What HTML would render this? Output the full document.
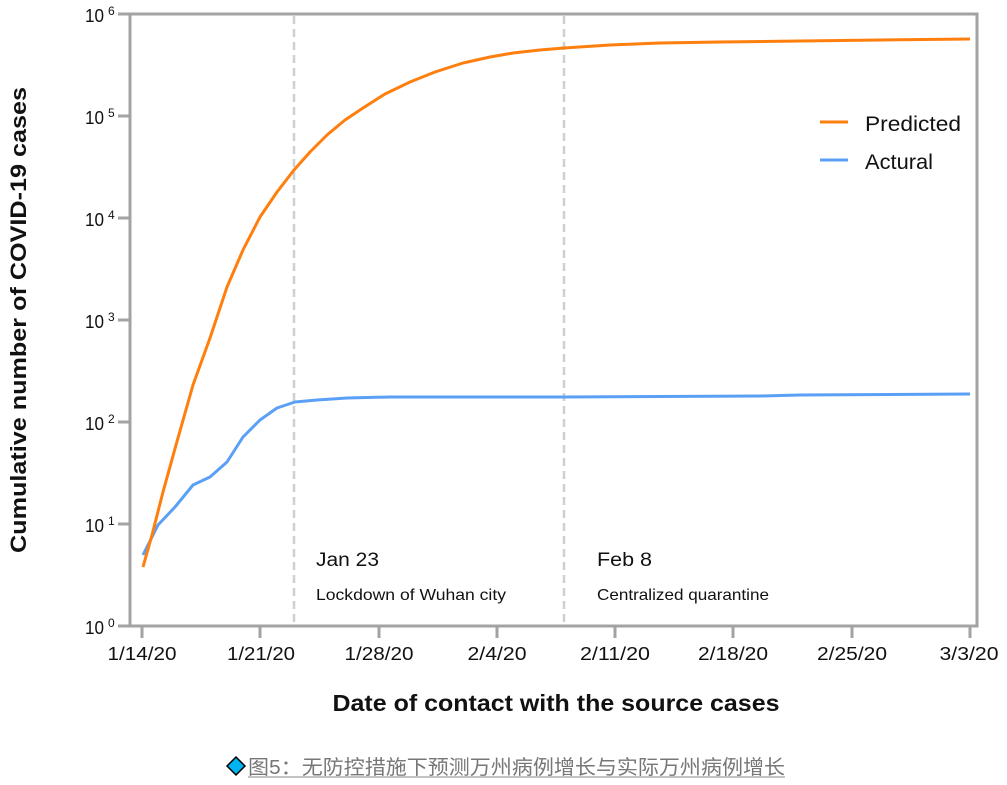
<!DOCTYPE html>
<html><head><meta charset="utf-8"><style>
html,body{margin:0;padding:0;background:#fff;}
svg{display:block;}
text{font-family:"Liberation Sans",Arial,sans-serif;fill:#111;}
</style></head><body>
<svg width="1007" height="785" viewBox="0 0 1007 785" xmlns="http://www.w3.org/2000/svg">
<!-- dashed event lines -->
<line x1="294" y1="16" x2="294" y2="625" stroke="#cfcfcf" stroke-width="2.5" stroke-dasharray="8,5"/>
<line x1="564" y1="16" x2="564" y2="625" stroke="#cfcfcf" stroke-width="2.5" stroke-dasharray="8,5"/>
<!-- frame -->
<rect x="130" y="14" width="847" height="612" fill="none" stroke="#a3a3a3" stroke-width="3"/>
<!-- y ticks -->
<g stroke="#a3a3a3" stroke-width="3">
<line x1="118" y1="14" x2="130" y2="14"/>
<line x1="118" y1="116" x2="130" y2="116"/>
<line x1="118" y1="218" x2="130" y2="218"/>
<line x1="118" y1="320" x2="130" y2="320"/>
<line x1="118" y1="422" x2="130" y2="422"/>
<line x1="118" y1="524" x2="130" y2="524"/>
<line x1="118" y1="626" x2="130" y2="626"/>
<!-- x ticks -->
<line x1="142" y1="626" x2="142" y2="638"/>
<line x1="260" y1="626" x2="260" y2="638"/>
<line x1="379" y1="626" x2="379" y2="638"/>
<line x1="497" y1="626" x2="497" y2="638"/>
<line x1="615" y1="626" x2="615" y2="638"/>
<line x1="733" y1="626" x2="733" y2="638"/>
<line x1="852" y1="626" x2="852" y2="638"/>
<line x1="970" y1="626" x2="970" y2="638"/>
</g>
<!-- y tick labels -->
<g font-size="18">
<text x="85" y="22" textLength="19" lengthAdjust="spacingAndGlyphs">10</text>
<text x="85" y="124" textLength="19" lengthAdjust="spacingAndGlyphs">10</text>
<text x="85" y="226" textLength="19" lengthAdjust="spacingAndGlyphs">10</text>
<text x="85" y="328" textLength="19" lengthAdjust="spacingAndGlyphs">10</text>
<text x="85" y="430" textLength="19" lengthAdjust="spacingAndGlyphs">10</text>
<text x="85" y="532" textLength="19" lengthAdjust="spacingAndGlyphs">10</text>
<text x="85" y="634" textLength="19" lengthAdjust="spacingAndGlyphs">10</text>
</g>
<g font-size="12">
<text x="108" y="15">6</text>
<text x="108" y="117">5</text>
<text x="108" y="219">4</text>
<text x="108" y="321">3</text>
<text x="108" y="423">2</text>
<text x="108" y="525">1</text>
<text x="108" y="627">0</text>
</g>
<!-- x tick labels -->
<g font-size="18" text-anchor="middle">
<text x="142" y="660" textLength="69" lengthAdjust="spacingAndGlyphs">1/14/20</text>
<text x="261" y="660" textLength="68" lengthAdjust="spacingAndGlyphs">1/21/20</text>
<text x="379" y="660" textLength="69" lengthAdjust="spacingAndGlyphs">1/28/20</text>
<text x="497" y="660" textLength="59" lengthAdjust="spacingAndGlyphs">2/4/20</text>
<text x="615" y="660" textLength="70" lengthAdjust="spacingAndGlyphs">2/11/20</text>
<text x="733" y="660" textLength="70" lengthAdjust="spacingAndGlyphs">2/18/20</text>
<text x="852" y="660" textLength="70" lengthAdjust="spacingAndGlyphs">2/25/20</text>
<text x="969" y="660" textLength="59" lengthAdjust="spacingAndGlyphs">3/3/20</text>
</g>
<!-- axis titles -->
<text x="556" y="711" font-size="23" font-weight="bold" text-anchor="middle" textLength="447" lengthAdjust="spacingAndGlyphs">Date of contact with the source cases</text>
<text transform="translate(26,320) rotate(-90)" font-size="22" font-weight="bold" text-anchor="middle" textLength="466" lengthAdjust="spacingAndGlyphs">Cumulative number of COVID-19 cases</text>
<!-- annotations -->
<text x="316" y="566" font-size="19" textLength="63" lengthAdjust="spacingAndGlyphs">Jan 23</text>
<text x="316" y="600" font-size="16" textLength="190" lengthAdjust="spacingAndGlyphs">Lockdown of Wuhan city</text>
<text x="597" y="566" font-size="19" textLength="55" lengthAdjust="spacingAndGlyphs">Feb 8</text>
<text x="597" y="600" font-size="16" textLength="172" lengthAdjust="spacingAndGlyphs">Centralized quarantine</text>
<!-- series -->
<polyline fill="none" stroke="#5ba0f6" stroke-width="3" stroke-linejoin="round" points="143,555 158,525 175,507 193,485 210,477 227,462 243,437 260,420 277,408 295,402 317,400 347,398 390,397 470,397 564,397 760,396 800,395 970,394"/>
<polyline fill="none" stroke="#ff7f0e" stroke-width="3" stroke-linejoin="round" points="143,567 152,535 163,492 176,445 193,385 210,338 227,287 243,250 260,217 277,192 294,170 310,152 327,135 345,120 363,108 385,94 410,82 435,72 463,63 490,57 513,53 540,50 564,48 610,45 660,43 720,42 800,41 880,40 970,39"/>
<!-- legend -->
<line x1="820" y1="122" x2="848" y2="122" stroke="#ff7f0e" stroke-width="3"/>
<line x1="820" y1="160" x2="848" y2="160" stroke="#5ba0f6" stroke-width="3"/>
<text x="865" y="131" font-size="21" textLength="96" lengthAdjust="spacingAndGlyphs">Predicted</text>
<text x="865" y="169" font-size="21" textLength="68" lengthAdjust="spacingAndGlyphs">Actural</text>
<!-- caption -->
<polygon points="236,757 245,766 236,775 227,766" fill="#00b4ef" stroke="#000" stroke-width="1.5"/>
<text x="248" y="774" font-size="20" fill="#777" style="fill:#777;font-family:'Liberation Sans','Noto Sans CJK SC',sans-serif;" textLength="537" lengthAdjust="spacingAndGlyphs">图5：无防控措施下预测万州病例增长与实际万州病例增长</text>
<line x1="248" y1="777" x2="785" y2="777" stroke="#888" stroke-width="1"/>
</svg>
</body></html>
